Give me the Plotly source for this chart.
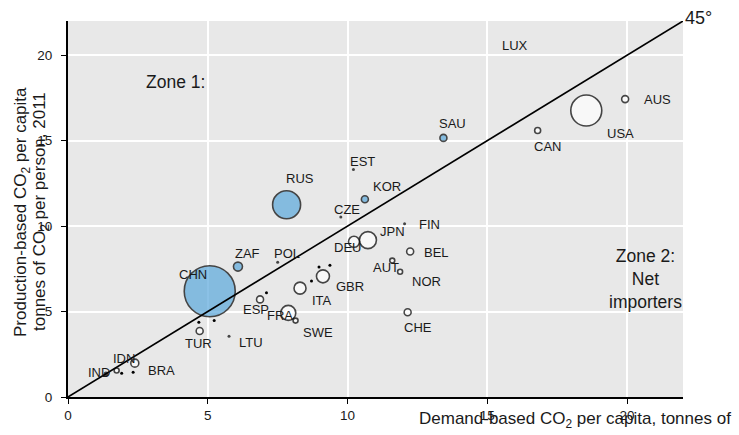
import plotly.graph_objects as go

# ---------------- data ----------------
countries = ["RUS", "CHN", "ZAF", "KOR", "SAU",
             "EST", "CZE", "POL", "FIN", "LTU", "IND",
             "JPN", "DEU", "BEL", "AUT", "NOR", "CHE", "GBR", "ITA", "ESP",
             "FRA", "SWE", "TUR", "IDN", "BRA", "CAN", "USA", "AUS"]
demand = [7.82, 5.07, 6.08, 10.62, 13.43,
          10.21, 9.76, 7.50, 12.04, 5.76, 1.36,
          10.73, 10.23, 12.24, 11.60, 11.88, 12.15, 9.12, 8.30, 6.87,
          7.88, 8.14, 4.71, 1.74, 2.39, 16.80, 18.54, 19.93]
production = [11.25, 6.19, 7.63, 11.57, 15.16,
              13.31, 10.53, 7.88, 10.14, 3.55, 1.35,
              9.18, 9.08, 8.51, 7.98, 7.33, 4.96, 7.06, 6.37, 5.71,
              4.92, 4.47, 3.86, 1.55, 1.98, 15.59, 16.76, 17.43]
bubble = [28, 51, 9, 7, 7,
          3, 3, 3, 3, 3, 5,
          17, 11, 7, 5, 5, 7, 13, 12, 7,
          15, 5, 7, 5, 8, 6, 31, 7]
group = ["net exporter"] * 5 + ["dot"] * 6 + ["net importer"] * 17

# unlabelled small economies
other_demand = [8.71, 8.98, 9.37, 7.10, 5.23, 4.68, 1.92, 2.33]
other_production = [6.78, 7.61, 7.71, 6.10, 4.47, 4.37, 1.39, 1.45]

x_ticks = [0, 5, 10, 15, 20]
y_ticks = [0, 5, 10, 15, 20]

# ---------------- styling ----------------
FONT = "Liberation Sans, Arial, sans-serif"
BLUE = "#5BA8DC"
BG = "#E8E8E8"
TXT = "#1a1a1a"

# label offsets (pixels: right, up) relative to each point
label_offset = {
    "RUS": (13, 26), "CHN": (-17, 17), "ZAF": (10, 13), "KOR": (22, 13), "SAU": (9, 14),
    "EST": (9, 8), "CZE": (6, 8), "POL": (9, 9), "FIN": (25, -1), "LTU": (22, -6),
    "IND": (-7, 1), "JPN": (25, 9), "DEU": (-6, -6), "BEL": (26, -1), "AUT": (-6, -7),
    "NOR": (26, -10), "CHE": (10, -15), "GBR": (27, -10), "ITA": (22, -12), "ESP": (-4, -10),
    "FRA": (-8, -3), "SWE": (22, -12), "TUR": (-1, -12), "IDN": (7, 12), "BRA": (27, -7),
    "CAN": (10, -16), "USA": (34, -23), "AUS": (32, 0),
}

fig = go.Figure()

def add_group(name, fill, line_w):
    idx = [i for i, g in enumerate(group) if g == name]
    fig.add_trace(go.Scatter(
        x=[demand[i] for i in idx], y=[production[i] for i in idx],
        mode="markers", hoverinfo="skip", showlegend=False,
        marker=dict(size=[bubble[i] for i in idx], sizemode="diameter",
                    color=fill, line=dict(color="black", width=line_w)),
    ))

add_group("net exporter", BLUE, 1.6)
add_group("net importer", "white", 1.6)
add_group("dot", "black", 0)

fig.add_trace(go.Scatter(
    x=other_demand, y=other_production, mode="markers", hoverinfo="skip",
    showlegend=False, marker=dict(size=3, color="black"),
))

# 45 degree line
fig.add_trace(go.Scatter(
    x=[0, 22], y=[0, 22], mode="lines", hoverinfo="skip", showlegend=False,
    line=dict(color="black", width=1.6), cliponaxis=False,
))

annotations = []
for c, xv, yv in zip(countries, demand, production):
    dx, dy = label_offset[c]
    annotations.append(dict(x=xv, y=yv, xref="x", yref="y", text=c, showarrow=False,
                            xshift=dx, yshift=dy, xanchor="center", yanchor="middle",
                            font=dict(family=FONT, size=13, color=TXT)))
annotations.append(dict(x=16.0, y=20.55, xref="x", yref="y", text="LUX", showarrow=False,
                        xanchor="center", yanchor="middle",
                        font=dict(family=FONT, size=13, color=TXT)))

annotations += [
    dict(x=(175 - 68) / 615, y=(397 - 82) / 376, xref="paper", yref="paper", text="Zone 1:",
         showarrow=False, xanchor="center", yanchor="middle",
         font=dict(family=FONT, size=17.5, color=TXT)),
    dict(x=(645 - 68) / 615, y=(397 - 279) / 376, xref="paper", yref="paper",
         text="Zone 2:<br>Net<br>importers", showarrow=False, xanchor="center", yanchor="middle",
         align="center", font=dict(family=FONT, size=17.5, color=TXT)),
    dict(x=(698 - 68) / 615, y=(397 - 18) / 376, xref="paper", yref="paper", text="45°",
         showarrow=False, xanchor="center", yanchor="middle",
         font=dict(family=FONT, size=18, color=TXT)),
    dict(x=(417 - 68) / 615, y=(397 - 420) / 376, xref="paper", yref="paper",
         text="Demand-based CO<sub>2</sub> per capita, tonnes of", showarrow=False,
         xanchor="left", yanchor="middle",
         font=dict(family=FONT, size=17, color=TXT)),
    dict(x=(22 - 68) / 615, y=(397 - 212) / 376, xref="paper", yref="paper",
         text="Production-based CO<sub>2</sub> per capita", showarrow=False, textangle=-90,
         xanchor="center", yanchor="middle",
         font=dict(family=FONT, size=17, color=TXT)),
    dict(x=(41 - 68) / 615, y=(397 - 212) / 376, xref="paper", yref="paper",
         text="tonnes of CO<sub>2</sub> per person, 2011", showarrow=False, textangle=-90,
         xanchor="center", yanchor="middle",
         font=dict(family=FONT, size=17, color=TXT)),
]

axis_common = dict(
    showgrid=True, gridcolor="white", gridwidth=2,
    showline=True, linecolor="black", linewidth=2,
    ticks="outside", ticklen=5, tickcolor="black", tickwidth=1,
    zeroline=False, tickfont=dict(family=FONT, size=13.5, color=TXT),
    fixedrange=True,
)

fig.update_layout(
    width=739, height=435,
    margin=dict(l=68, r=56, t=21, b=38),
    paper_bgcolor="white", plot_bgcolor=BG,
    xaxis=dict(range=[0, 22], tickvals=x_ticks, **axis_common),
    yaxis=dict(range=[0, 22], tickvals=y_ticks, ticklabelstandoff=6, **axis_common),
    annotations=annotations,
    showlegend=False,
)

fig.write_html("out.html")
